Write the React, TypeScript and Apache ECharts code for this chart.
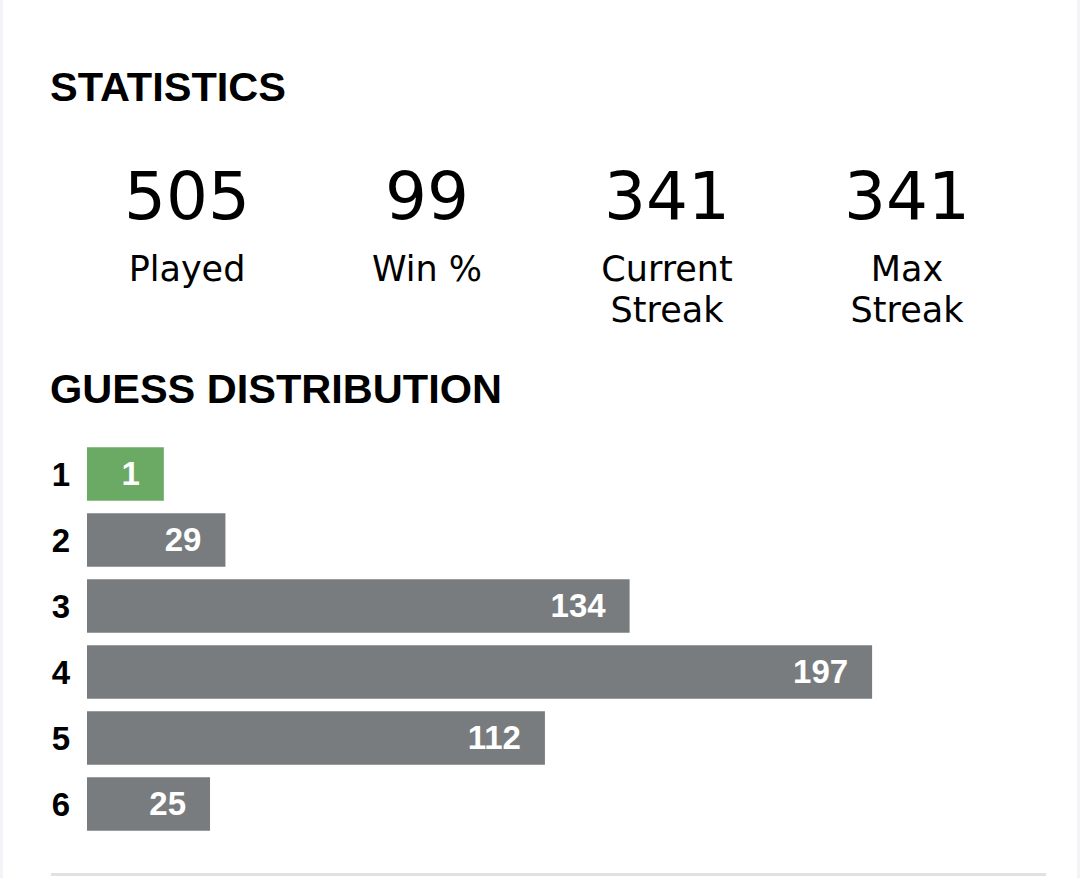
import React, { useEffect, useRef } from "react";
import * as echarts from "echarts";

// ---- data ----
const guessLabels: string[] = ["1", "2", "3", "4", "5", "6"];
const guessCounts: number[] = [1, 29, 134, 197, 112, 25];
const currentGuessIndex = 0;
const statValues: string[] = ["505", "99", "341", "341"];
const statLabels: string[] = ["Played", "Win %", "Current\nStreak", "Max\nStreak"];
const titleStats = "STATISTICS";
const titleDist = "GUESS DISTRIBUTION";

const GREEN = "#6aaa64";
const GRAY = "#787c7e";
const BOLD_FONT = '"Liberation Sans", Arial, sans-serif';
const STAT_FONT = '"DejaVu Sans", sans-serif';

export default function App() {
  const ref = useRef<HTMLDivElement>(null);

  useEffect(() => {
    if (!ref.current) return;
    const chart = echarts.init(ref.current, undefined, { renderer: "svg" });
    const maxCount = Math.max(...guessCounts);
    const pad = 26.8;
    const statCenters = [187, 427, 667, 907];

    const graphics: any[] = [
      { type: "rect", shape: { x: 0, y: 0, width: 3, height: 878 }, style: { fill: "#f3f4f7" }, silent: true },
      { type: "rect", shape: { x: 1077, y: 0, width: 3, height: 878 }, style: { fill: "#f3f4f7" }, silent: true },
      {
        type: "line",
        shape: { x1: 51, y1: 874.5, x2: 1046, y2: 874.5 },
        style: { stroke: "#e1e1e1", lineWidth: 3 },
      },
      {
        type: "text",
        x: 50,
        y: 86,
        style: {
          text: titleStats,
          fill: "#000",
          fontFamily: BOLD_FONT,
          fontWeight: "bold",
          fontSize: 41.5,
          align: "left",
          textAlign: "left",
          verticalAlign: "middle",
          textVerticalAlign: "middle",
        },
      },
      {
        type: "text",
        x: 50,
        y: 388.5,
        style: {
          text: titleDist,
          fill: "#000",
          fontFamily: BOLD_FONT,
          fontWeight: "bold",
          fontSize: 41.5,
          align: "left",
          textAlign: "left",
          verticalAlign: "middle",
          textVerticalAlign: "middle",
        },
      },
    ];

    statValues.forEach((val, i) => {
      graphics.push({
        type: "text",
        x: statCenters[i],
        y: 196,
        style: {
          text: val,
          fill: "#000",
          fontFamily: STAT_FONT,
          fontSize: 66,
          align: "center",
          textAlign: "center",
          verticalAlign: "middle",
          textVerticalAlign: "middle",
        },
      });
      graphics.push({
        type: "text",
        x: statCenters[i],
        y: 248,
        style: {
          text: statLabels[i],
          fill: "#000",
          fontFamily: STAT_FONT,
          fontSize: 35,
          lineHeight: 41,
          align: "center",
          textAlign: "center",
          verticalAlign: "top",
          textVerticalAlign: "top",
        },
      });
    });

    chart.setOption({
      animation: false,
      backgroundColor: "#ffffff",
      grid: { left: 87, width: 758.3, top: 441, height: 396, containLabel: false },
      xAxis: {
        type: "value",
        min: 0,
        max: maxCount,
        show: false,
        splitLine: { show: false },
      },
      yAxis: {
        type: "category",
        data: guessLabels,
        inverse: true,
        axisLine: { show: false },
        axisTick: { show: false },
        splitLine: { show: false },
        axisLabel: {
          color: "#000",
          fontFamily: BOLD_FONT,
          fontWeight: "bold",
          fontSize: 33,
          align: "center",
          margin: 26,
        },
      },
      graphic: { elements: graphics },
      series: [
        {
          type: "custom",
          encode: { x: 1, y: 0 },
          data: guessCounts.map((v, i) => [i, v]),
          renderItem: (params: any, api: any) => {
            const idx = api.value(0);
            const v = api.value(1);
            const shown = Math.max(v, maxCount * 0.066);
            const start = api.coord([0, idx]);
            const end = api.coord([shown, idx]);
            const h = api.size([0, 1])[1] * 0.81;
            const barEnd = end[0] + pad;
            return {
              type: "group",
              children: [
                {
                  type: "rect",
                  shape: { x: start[0], y: start[1] - h / 2, width: barEnd - start[0], height: h },
                  style: { fill: idx === currentGuessIndex ? GREEN : GRAY },
                },
                {
                  type: "text",
                  style: {
                    text: String(v),
                    x: barEnd - 24,
                    y: start[1] - 1,
                    fill: "#ffffff",
                    fontFamily: BOLD_FONT,
                    fontWeight: "bold",
                    fontSize: 33,
                    align: "right",
                    textAlign: "right",
                    verticalAlign: "middle",
                    textVerticalAlign: "middle",
                  },
                },
              ],
            };
          },
        },
      ],
    });

    return () => chart.dispose();
  }, []);

  return (
    <div
      ref={ref}
      style={{ position: "fixed", left: 0, top: 0, width: 1080, height: 878, background: "#fff" }}
    />
  );
}
